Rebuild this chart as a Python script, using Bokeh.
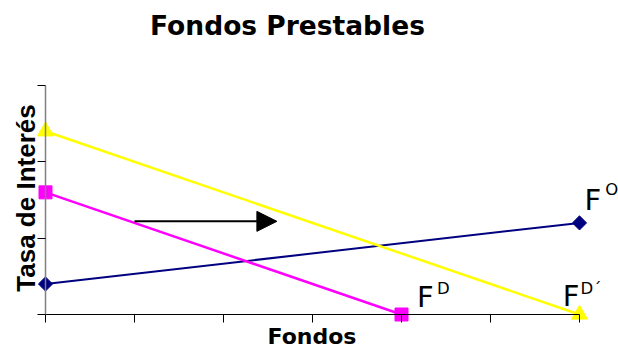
import math

from bokeh.embed import file_html
from bokeh.models import (Arrow, CustomJSTickFormatter, FixedTicker, Label,
                          LinearAxis, NormalHead, Range1d)
from bokeh.plotting import figure
from bokeh.resources import INLINE

# --- data -------------------------------------------------------------
fondos_ticks = [0, 1, 2, 3, 4, 5, 6]
tasa_ticks = [0, 5, 10, 15]

oferta_x = [0, 6]          # F^O  (supply of loanable funds)
oferta_y = [2, 6]
demanda_x = [0, 4]         # F^D  (original demand)
demanda_y = [8, 0]
demanda2_x = [0, 6]        # F^D´ (shifted demand)
demanda2_y = [12, 0]

shift_from = (1.0, 6.1)    # arrow showing the demand shift
shift_to = (2.6, 6.1)

# --- figure -----------------------------------------------------------
W, H = 618, 350
PX_X = 89.0                # pixels per unit on the funds axis
PX_Y = 229.0 / 15.0        # pixels per unit on the rate axis
p = figure(width=W, height=H, output_backend="svg", toolbar_location=None,
           x_axis_type=None, y_axis_type=None, min_border=0,
           x_range=Range1d(-45 / PX_X, 573 / PX_X),
           y_range=Range1d(-36 / PX_Y, 314 / PX_Y))
p.outline_line_color = None
p.background_fill_color = "white"
p.border_fill_color = "white"

blank = CustomJSTickFormatter(code="return ''")

yaxis = LinearAxis(fixed_location=0, bounds=(0, 15),
                   ticker=FixedTicker(ticks=tasa_ticks), formatter=blank)
yaxis.axis_line_color = "#808080"
yaxis.axis_line_width = 1.5
yaxis.major_tick_line_color = "black"
yaxis.major_tick_out = 8
yaxis.major_tick_in = 0
yaxis.minor_tick_line_color = None
p.add_layout(yaxis, "left")

xaxis = LinearAxis(fixed_location=0, bounds=(0, 6),
                   ticker=FixedTicker(ticks=fondos_ticks), formatter=blank)
xaxis.axis_line_color = "black"
xaxis.axis_line_width = 1.2
xaxis.major_tick_line_color = "black"
xaxis.major_tick_out = 8
xaxis.major_tick_in = 0
xaxis.minor_tick_line_color = None
p.add_layout(xaxis, "below")

# --- series -----------------------------------------------------------
p.line(oferta_x, oferta_y, line_color="#000080", line_width=2)
p.scatter(oferta_x, oferta_y, marker="square", angle=math.pi / 4, size=10,
          fill_color="#000080", line_color="#000080")

p.line(demanda2_x, demanda2_y, line_color="#FFFF00", line_width=2.5)
p.scatter(demanda2_x, demanda2_y, marker="triangle", size=16,
          fill_color="#FFFF00", line_color="#FFFF00")

p.line(demanda_x, demanda_y, line_color="#FF00FF", line_width=2.5)
p.scatter(demanda_x, demanda_y, marker="square", size=13,
          fill_color="#FF00FF", line_color="#FF00FF")

p.add_layout(Arrow(x_start=shift_from[0], y_start=shift_from[1],
                   x_end=shift_to[0], y_end=shift_to[1],
                   line_color="black", line_width=2,
                   end=NormalHead(size=20, fill_color="black",
                                  line_color="black")))

# --- texts ------------------------------------------------------------
LIFT = 0.37  # raise the alphabetic baseline by this fraction of the font size


def add_text(x, y, text, size, font="DejaVu Sans", style="normal",
             align="left", angle=0.0):
    lift = LIFT * size
    if angle:
        x -= lift / PX_X
    else:
        y += lift / PX_Y
    p.add_layout(Label(x=x, y=y, text=text, text_font=font,
                       text_font_size=f"{size}px", text_font_style=style,
                       text_align=align, text_baseline="alphabetic",
                       angle=angle, text_color="black"))


add_text(2.719, 18.27, "Fondos Prestables", 26.5, style="bold",
         align="center")
add_text(2.994, -1.965, "Fondos", 22, style="bold", align="center")
add_text(-0.112, 7.63, "Tasa de Interés", 26, font="Liberation Sans",
         style="bold", align="center", angle=math.pi / 2)

# curve labels with superscripts
add_text(4.174, 0.44, "F", 29)
add_text(4.398, 1.31, "D", 16.5)
add_text(5.811, 0.478, "F", 29)
add_text(6.012, 1.31, "D´", 16.5)
add_text(6.055, 6.81, "F", 29)
add_text(6.29, 7.77, "O", 16.5)

open("out.html", "w").write(file_html(p, INLINE))
